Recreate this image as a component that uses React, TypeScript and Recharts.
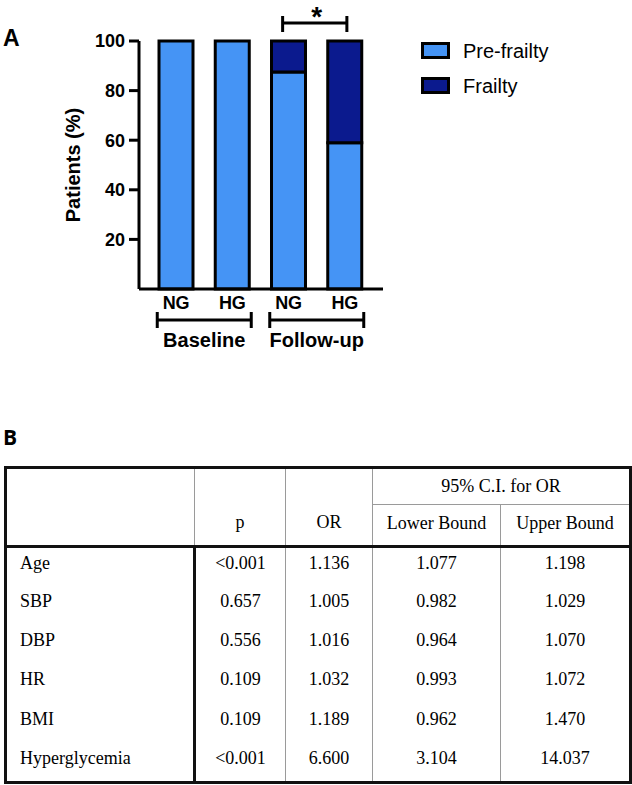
import { Bar, BarChart, Legend, ReferenceLine, XAxis, YAxis } from "recharts";

const categories = ["NG", "HG", "NG", "HG"];
const groups = ["Baseline", "Baseline", "Follow-up", "Follow-up"];
const preFrailty = [100, 100, 87.5, 59];
const frailty = [0, 0, 12.5, 41];
const yTicks = [20, 40, 60, 80, 100];
const seriesNames = ["Pre-frailty", "Frailty"];
const sigLevel = 107.3;

const tableVars = ["Age", "SBP", "DBP", "HR", "BMI", "Hyperglycemia"];
const pValues = ["<0.001", "0.657", "0.556", "0.109", "0.109", "<0.001"];
const orValues = ["1.136", "1.005", "1.016", "1.032", "1.189", "6.600"];
const lowerBounds = ["1.077", "0.982", "0.964", "0.993", "0.962", "3.104"];
const upperBounds = ["1.198", "1.029", "1.070", "1.072", "1.470", "14.037"];

const LIGHT = "#4594f5";
const DARK = "#0b1a8e";
const GRID = "#9a9a9a";

const data = categories.map((cat, i) => ({
  key: `${groups[i]}-${cat}`,
  group: groups[i],
  pre: preFrailty[i],
  frail: frailty[i],
}));

function YLabel({ viewBox }: any) {
  const cx = (viewBox?.x ?? 0) + 73;
  const cy = 165;
  return (
    <text x={cx} y={cy} transform={`rotate(-90 ${cx} ${cy})`} textAnchor="middle" dominantBaseline="central"
      fontSize={20} fontWeight={700} fill="#000">
      Patients (%)
    </text>
  );
}

function GroupTick({ x, y, payload }: any) {
  const half = 47;
  const by = y + 11;
  return (
    <g>
      <path d={`M${x - half},${by - 8}V${by + 8}M${x - half},${by}H${x + half}M${x + half},${by - 8}V${by + 8}`}
        stroke="#000" strokeWidth={3} fill="none" />
      <text x={x} y={y + 38} textAnchor="middle" fontSize={20} fontWeight={700} fill="#000">{payload.value}</text>
    </g>
  );
}

function SigBracket(props: any) {
  const { x1, x2, y1 } = props;
  const l = x1 - 6;
  const r = x2 + 2;
  return <path d={`M${l},${y1 - 7}V${y1 + 9}M${l},${y1}H${r}M${r},${y1 - 7}V${y1 + 9}`} stroke="#000" strokeWidth={3} fill="none" />;
}

function LegendBox({ payload }: any) {
  const items = [...(payload ?? [])].sort((a: any, b: any) => seriesNames.indexOf(a.value) - seriesNames.indexOf(b.value));
  return (
    <div>
      {items.map((item: any) => (
        <div key={item.value} style={{ display: "flex", alignItems: "center", height: 35 }}>
          <span style={{ display: "inline-block", width: 23, height: 11, background: item.color, border: "3px solid #000", marginRight: 13 }} />
          <span style={{ fontSize: 20, color: "#000", lineHeight: "20px" }}>{item.value}</span>
        </div>
      ))}
    </div>
  );
}

const cell = { fontSize: 18, color: "#000", padding: 0 };
const thin = `1px solid ${GRID}`;
const thick = "3px solid #111";

export default function App() {
  return (
    <div style={{ position: "absolute", left: 0, top: 0, width: 632, height: 785, background: "#fff", fontFamily: "'Liberation Sans', Arial, sans-serif" }}>
      <div style={{ position: "absolute", left: 3, top: 24, fontSize: 23, fontWeight: 700, lineHeight: "28px" }}>A</div>
      <div style={{ position: "absolute", left: 0, top: 0 }}>
        <BarChart width={632} height={360} data={data} margin={{ top: 41, right: 249, bottom: 1, left: 0 }} barSize={34}>
          <XAxis dataKey="key" height={20} tickFormatter={(_v, i) => categories[i]} padding={{ left: 9, right: 10 }}
            axisLine={{ stroke: "#000", strokeWidth: 3 }} tickLine={false} tickSize={0} tickMargin={7}
            tick={{ fill: "#000", fontSize: 18, fontWeight: 700 }} interval={0} />
          <XAxis xAxisId="grp" dataKey="group" allowDuplicatedCategory={false} height={50} padding={{ left: 9, right: 10 }}
            axisLine={false} tickLine={false} tickSize={0} tickMargin={0} tick={<GroupTick />} interval={0} />
          <YAxis width={139} domain={[0, 100]} ticks={yTicks} tickSize={10} tickMargin={4}
            axisLine={{ stroke: "#000", strokeWidth: 3 }} tickLine={{ stroke: "#000", strokeWidth: 3 }}
            tick={{ fill: "#000", fontSize: 18, fontWeight: 700 }} label={<YLabel />} />
          <Legend layout="vertical" verticalAlign="middle" align="center" wrapperStyle={{ left: 421, top: 33, width: 200 }} content={<LegendBox />} />
          <Bar dataKey="pre" name={seriesNames[0]} stackId="a" fill={LIGHT} stroke="#000" strokeWidth={3} isAnimationActive={false} />
          <Bar dataKey="frail" name={seriesNames[1]} stackId="a" fill={DARK} stroke="#000" strokeWidth={3} isAnimationActive={false} />
          <ReferenceLine ifOverflow="visible" segment={[{ x: "Follow-up-NG", y: sigLevel }, { x: "Follow-up-HG", y: sigLevel }]}
            shape={<SigBracket />} label={{ value: "*", position: "top", offset: -3, fill: "#000", fontSize: 28, fontWeight: 700 }} />
        </BarChart>
      </div>

      <div style={{ position: "absolute", left: 3, top: 424, fontFamily: "'Open Sans', sans-serif", fontSize: 21, fontWeight: 700, lineHeight: "26px" }}>B</div>
      <table style={{ position: "absolute", left: 4, top: 466, width: 625, borderCollapse: "collapse", tableLayout: "fixed", fontFamily: "'Liberation Serif', 'Times New Roman', serif", border: thick }}>
        <colgroup>
          <col style={{ width: 189 }} />
          <col style={{ width: 91 }} />
          <col style={{ width: 87 }} />
          <col style={{ width: 128 }} />
          <col style={{ width: 130 }} />
        </colgroup>
        <thead>
          <tr style={{ height: 37 }}>
            <th rowSpan={2} style={{ ...cell, borderRight: thin, borderBottom: thick }} />
            <th rowSpan={2} style={{ ...cell, fontWeight: 400, verticalAlign: "bottom", paddingBottom: 12, borderRight: thin, borderBottom: thick }}>p</th>
            <th rowSpan={2} style={{ ...cell, fontWeight: 400, verticalAlign: "bottom", paddingBottom: 12, borderRight: thin, borderBottom: thick }}>OR</th>
            <th colSpan={2} style={{ ...cell, fontWeight: 400, borderBottom: thin }}>95% C.I. for OR</th>
          </tr>
          <tr style={{ height: 42 }}>
            <th style={{ ...cell, fontWeight: 400, borderRight: thin, borderBottom: thick, paddingBottom: 3 }}>Lower Bound</th>
            <th style={{ ...cell, fontWeight: 400, borderBottom: thick, paddingBottom: 3 }}>Upper Bound</th>
          </tr>
        </thead>
        <tbody>
          {tableVars.map((v, i) => (
            <tr key={v} style={{ height: 39.3 }}>
              <td style={{ ...cell, textAlign: "left", paddingLeft: 13, paddingTop: 5, verticalAlign: "top", borderRight: thick }}>{v}</td>
              <td style={{ ...cell, textAlign: "center", paddingTop: 5, verticalAlign: "top", borderRight: thin }}>{pValues[i]}</td>
              <td style={{ ...cell, textAlign: "center", paddingTop: 5, verticalAlign: "top", borderRight: thin }}>{orValues[i]}</td>
              <td style={{ ...cell, textAlign: "center", paddingTop: 5, verticalAlign: "top", borderRight: thin }}>{lowerBounds[i]}</td>
              <td style={{ ...cell, textAlign: "center", paddingTop: 5, verticalAlign: "top" }}>{upperBounds[i]}</td>
            </tr>
          ))}
        </tbody>
      </table>
    </div>
  );
}
